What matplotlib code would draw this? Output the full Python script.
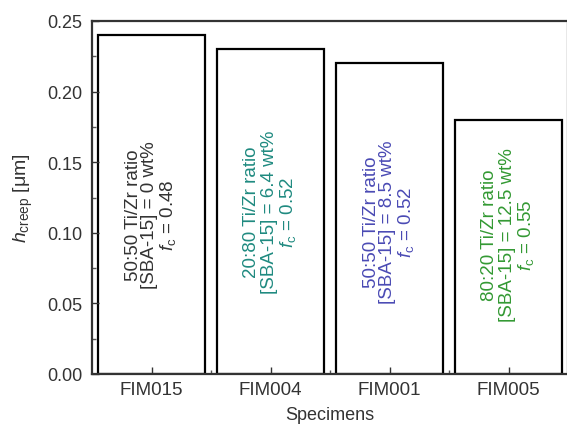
import matplotlib
matplotlib.use("Agg")
import matplotlib.pyplot as plt
from matplotlib.ticker import MultipleLocator, FixedLocator

plt.rcParams['font.family'] = ['Liberation Sans', 'DejaVu Sans']
plt.rcParams['mathtext.fontset'] = 'custom'
plt.rcParams['mathtext.rm'] = 'Liberation Sans'
plt.rcParams['mathtext.it'] = 'Liberation Sans:italic'

# creep depth per specimen
specimens = ['FIM015', 'FIM004', 'FIM001', 'FIM005']
h_creep = [0.24, 0.23, 0.22, 0.18]
ratios = ['50:50', '20:80', '50:50', '80:20']
sba15 = ['0', '6.4', '8.5', '12.5']
fc = ['0.48', '0.52', '0.52', '0.55']
label_y = [0.113, 0.115, 0.108, 0.099]
text_colors = ['#333333', '#1f8a80', '#4a4ab4', '#339933']

fig = plt.figure(figsize=(5.67, 4.27), dpi=100)
ax = fig.add_axes([92/567, 1 - 375/427, 476/567, 353/427])

x = range(len(specimens))
ax.bar(x, h_creep, width=0.9, color='white', edgecolor='black', linewidth=1.6)

for i in x:
    txt = (f"{ratios[i]} Ti/Zr ratio\n[SBA-15] = {sba15[i]} wt%\n"
           f"$f_{{\\mathrm{{c}}}}$ = {fc[i]}")
    ax.text(i, label_y[i], txt, rotation=90, ha='center', va='center',
            multialignment='center', fontsize=13.5, color=text_colors[i],
            linespacing=1.0)

ax.set_xlim(-0.5, 3.5)
ax.set_ylim(0, 0.25)
ax.set_xticks(list(x))
ax.set_xticklabels(specimens)
ax.xaxis.set_minor_locator(FixedLocator([0.5, 1.5, 2.5]))
ax.yaxis.set_major_locator(MultipleLocator(0.05))
ax.yaxis.set_minor_locator(MultipleLocator(0.025))
ax.yaxis.set_major_formatter(matplotlib.ticker.FormatStrFormatter('%.2f'))

ax.tick_params(axis='both', which='major', direction='in', length=5, width=1,
               labelsize=13, colors='#333333', labelcolor='#333333')
ax.tick_params(axis='x', labelsize=13.5, pad=5)
ax.tick_params(axis='both', which='minor', direction='in', length=3, width=1,
               colors='#555555')
ax.tick_params(axis='y', pad=7)

for s in ax.spines.values():
    s.set_linewidth(1.6)
    s.set_color('#333333')

ax.set_xlabel('Specimens', fontsize=13, color='#333333', labelpad=6)
ax.set_ylabel(r'$h_{\mathrm{creep}}$ [μm]', fontsize=14, color='#333333',
              labelpad=9)

fig.savefig('out.png', dpi=100)
